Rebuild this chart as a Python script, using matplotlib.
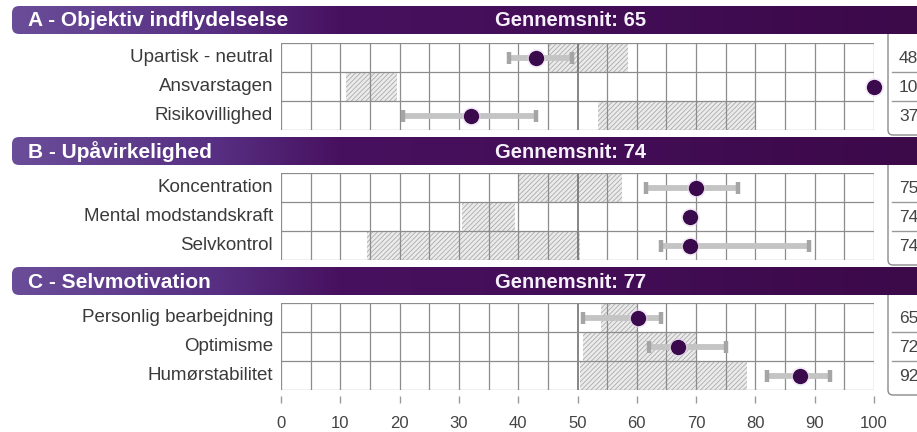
import numpy as np
import matplotlib.pyplot as plt
import matplotlib as mpl
from matplotlib.patches import FancyBboxPatch
from matplotlib.colors import LinearSegmentedColormap

mpl.rcParams.update({
    "font.family": ["Liberation Sans", "DejaVu Sans"],
    "hatch.linewidth": 0.6,
})

# ---- data -----------------------------------------------------------------
PANELS = ["A - Objektiv indflydelselse", "B - Upåvirkelighed", "C - Selvmotivation"]
AVERAGES = [65, 74, 77]
ROWS = [
    ["Upartisk - neutral", "Ansvarstagen", "Risikovillighed"],
    ["Koncentration", "Mental modstandskraft", "Selvkontrol"],
    ["Personlig bearbejdning", "Optimisme", "Humørstabilitet"],
]
NORM_LO = [[45, 11, 53.5], [40, 30.5, 14.5], [54, 51, 50.5]]
NORM_HI = [[58.5, 19.5, 80], [57.5, 39.5, 50.5], [60, 70, 78.5]]
SCORE = [[43, 100, 32], [70, 69, 69], [60.2, 67, 87.5]]
ERR_LO = [[38.5, None, 20.5], [61.5, None, 64], [51, 62, 82]]
ERR_HI = [[49, None, 43], [77, None, 89], [64, 75, 92.5]]
VALUES = [[48, 100, 37], [75, 74, 74], [65, 72, 92]]
XTICKS = list(range(0, 101, 10))

# ---- layout (pixels) ------------------------------------------------------
W, H = 917, 432
GRID_L, GRID_R = 281, 874
GRID_TOPS = [43, 173, 303]
GRID_H = 87
HEAD_TOPS = [6, 137, 267]
HEAD_H = 28

DOT = "#3a0a4c"
GRID_C = "#8c8c8c"
TXT = "#3a3a3a"
head_cmap = LinearSegmentedColormap.from_list(
    "head", [(0, "#6a4d99"), (0.22, "#583083"), (0.36, "#481160"), (1, "#3c0949")])

fig = plt.figure(figsize=(W / 100, H / 100), dpi=100)
bg = fig.add_axes([0, 0, 1, 1])
bg.set_xlim(0, W)
bg.set_ylim(H, 0)
bg.axis("off")

grad = np.linspace(0, 1, 512).reshape(1, -1)

for p, title in enumerate(PANELS):
    # header band with gradient + rounded left corner
    ht = HEAD_TOPS[p]
    clip = FancyBboxPatch((12, ht), W + 20 - 12, HEAD_H,
                          boxstyle="round,pad=0,rounding_size=7",
                          facecolor="none", edgecolor="none", transform=bg.transData)
    bg.add_patch(clip)
    im = bg.imshow(grad, extent=(12, W, ht + HEAD_H, ht), aspect="auto",
                   cmap=head_cmap, zorder=3)
    im.set_clip_path(clip)
    bg.text(28, ht + HEAD_H / 2 + 1, title, color="white", fontsize=15,
            fontweight="bold", va="center", ha="left", zorder=4)
    bg.text(495, ht + HEAD_H / 2 + 1, f"Gennemsnit: {AVERAGES[p]}", color="#f6f0fb",
            fontsize=14.5, fontweight="bold", va="center", ha="left", zorder=4)

    # right value box
    gt = GRID_TOPS[p]
    box = FancyBboxPatch((888, ht + HEAD_H - 4), 60, gt + GRID_H + 5 - (ht + HEAD_H - 4),
                         boxstyle="round,pad=0,rounding_size=5",
                         facecolor="none", edgecolor="#8a8a8a", linewidth=1.0, zorder=1)
    bg.add_patch(box)
    for r in (1, 2):
        yy = gt + GRID_H * r / 3
        bg.plot([892, W], [yy, yy], color="#9a9a9a", lw=1.0, zorder=1)
    for r, v in enumerate(VALUES[p]):
        bg.text(899, gt + GRID_H * (r + 0.5) / 3 + 1, str(v), fontsize=12.5,
                color="#444444", va="center", ha="left")

    # data panel
    ax = fig.add_axes([GRID_L / W, 1 - (gt + GRID_H) / H, (GRID_R - GRID_L) / W, GRID_H / H])
    ax.set_xlim(0, 100)
    ax.set_ylim(3, 0)
    ax.axis("off")

    ypos = np.arange(3) + 0.5
    lo = np.array(NORM_LO[p])
    hi = np.array(NORM_HI[p])
    ax.barh(ypos, hi - lo, left=lo, height=1.0, facecolor="#ebebeb",
            edgecolor="#ababab", linewidth=0, hatch="///////", zorder=1)

    for x in range(0, 101, 5):
        ax.axvline(x, color="#666666" if x == 50 else GRID_C,
                   lw=1.1 if x == 50 else 0.9, zorder=2)
    for y in range(0, 4):
        ax.axhline(y, color=GRID_C, lw=0.9, zorder=2)

    for r in range(3):
        if ERR_LO[p][r] is not None:
            ax.plot([ERR_LO[p][r], ERR_HI[p][r]], [ypos[r], ypos[r]],
                    color="#c4c4c4", lw=4.2, solid_capstyle="butt", zorder=3)
            ax.plot([ERR_LO[p][r], ERR_HI[p][r]], [ypos[r], ypos[r]],
                    ls="none", marker="|", ms=9, mew=3.2, color="#a5a5a5", zorder=3)
        ax.plot(SCORE[p][r], ypos[r], "o", ms=13.5, color="#e6d2ef", alpha=0.5,
                mec="none", zorder=4, clip_on=False)
        ax.plot(SCORE[p][r], ypos[r], "o", ms=11, color=DOT, mec="none",
                zorder=5, clip_on=False)

    tr = ax.get_yaxis_transform()
    for r, lab in enumerate(ROWS[p]):
        ax.text(-8 / (GRID_R - GRID_L), ypos[r], lab, transform=tr,
                ha="right", va="center", fontsize=13.5, color=TXT)

    if p == len(PANELS) - 1:
        xt = ax.get_xaxis_transform()
        ax.vlines(XTICKS, -6 / GRID_H, -13 / GRID_H, transform=xt,
                  color="#9a9a9a", lw=1.0, clip_on=False)
        for t in XTICKS:
            ax.text(t, -33 / GRID_H, str(t), transform=xt, ha="center",
                    va="center", fontsize=12, color="#444444")

fig.savefig("out.png", dpi=100)
